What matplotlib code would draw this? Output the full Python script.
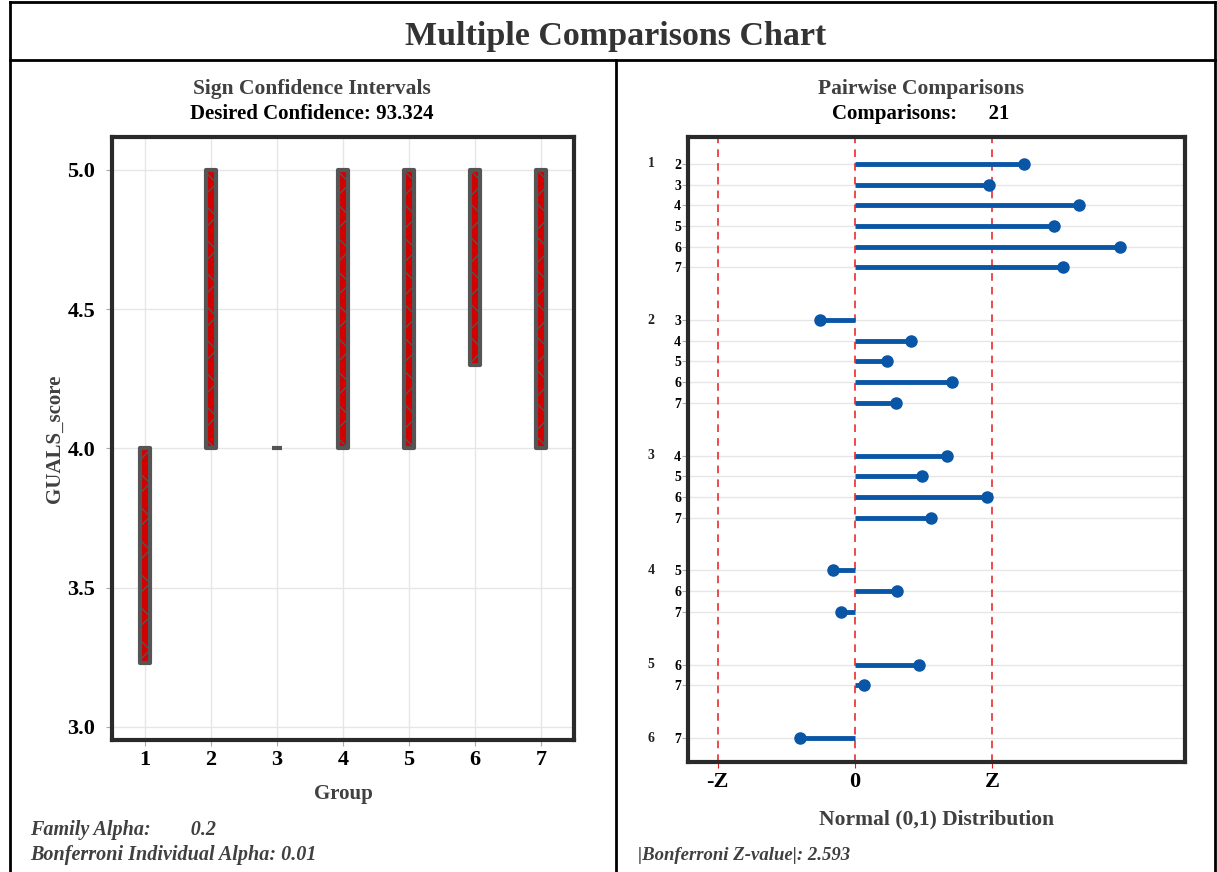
import matplotlib
matplotlib.use("Agg")
import matplotlib.pyplot as plt
from matplotlib.lines import Line2D

plt.rcParams['font.family'] = ['Liberation Serif', 'DejaVu Serif']
plt.rcParams['hatch.linewidth'] = 1.0

# sign confidence intervals per group
groups = [1, 2, 3, 4, 5, 6, 7]
ci_low = [3.23, 4.0, 4.0, 4.0, 4.0, 4.30, 4.0]
ci_high = [4.0, 5.0, 4.0, 5.0, 5.0, 5.0, 5.0]

# pairwise comparisons (z-values)
pair_first = [1, 1, 1, 1, 1, 1, 2, 2, 2, 2, 2, 3, 3, 3, 3, 4, 4, 4, 5, 5, 6]
pair_second = [2, 3, 4, 5, 6, 7, 3, 4, 5, 6, 7, 4, 5, 6, 7, 5, 6, 7, 6, 7, 7]
z_values = [3.20, 2.53, 4.23, 3.76, 5.00, 3.92,
            -0.65, 1.05, 0.61, 1.84, 0.78,
            1.73, 1.27, 2.49, 1.43,
            -0.42, 0.80, -0.27,
            1.21, 0.17,
            -1.04]
z_crit = 2.593

W, H = 1217, 872
fig = plt.figure(figsize=(W / 100, H / 100), dpi=100)
GRAY = '#404040'


def px_axes(x0, y0, x1, y1):
    return fig.add_axes([x0 / W, 1 - y1 / H, (x1 - x0) / W, (y1 - y0) / H])


def fig_line(x0, y0, x1, y1, lw=2):
    fig.add_artist(Line2D([x0 / W, x1 / W], [1 - y0 / H, 1 - y1 / H],
                          transform=fig.transFigure, color='black', lw=lw))


# frame lines
fig_line(10, 2, W, 2)
fig_line(10, 2, 10, H)
fig_line(10, 60, W, 60)
fig_line(616, 60, 616, H)
fig_line(W - 2, 2, W - 2, H)

fig.text(616 / W, 1 - 37 / H, 'Multiple Comparisons Chart', ha='center', va='center',
         fontsize=24.5, fontweight='bold', color='#333333')

# ---------- left panel ----------
fig.text(312 / W, 1 - 89 / H, 'Sign Confidence Intervals', ha='center', va='center',
         fontsize=15.5, fontweight='bold', color=GRAY)
fig.text(312 / W, 1 - 114 / H, 'Desired Confidence: 93.324', ha='center', va='center',
         fontsize=15, fontweight='bold', color='black')

ax1 = px_axes(112, 137, 574, 740)
heights = [h - l for l, h in zip(ci_low, ci_high)]
bars = ax1.bar(groups, heights, bottom=ci_low, width=0.16, color='#d40000',
               edgecolor='#555555', linewidth=3.0, hatch='x', zorder=3)
for b in bars:
    b.set_joinstyle('round')
ax1.set_xlim(0.5, 7.5)
ax1.set_ylim(2.953, 5.118)
ax1.set_xticks(groups)
ax1.set_yticks([3.0, 3.5, 4.0, 4.5, 5.0])
ax1.set_yticklabels(['3.0', '3.5', '4.0', '4.5', '5.0'])
ax1.grid(True, color='#e6e6e6', lw=1)
ax1.set_axisbelow(True)
ax1.tick_params(axis='y', labelsize=16, length=4, color='#aaaaaa', pad=8)
ax1.tick_params(axis='x', labelsize=16, length=4, color='#aaaaaa', pad=3)
for lab in ax1.get_xticklabels() + ax1.get_yticklabels():
    lab.set_fontweight('bold')
ax1.set_xlabel('Group', fontsize=15, fontweight='bold', color=GRAY, labelpad=10)
ax1.set_ylabel('GUALS_score', fontsize=15, fontweight='bold', color=GRAY, labelpad=2)
for s in ax1.spines.values():
    s.set_linewidth(3)
    s.set_color('#2a2a2a')

fig.text(30 / W, 1 - 830 / H, 'Family Alpha:        0.2', ha='left', va='center',
         fontsize=14.5, fontweight='bold', style='italic', color=GRAY)
fig.text(30 / W, 1 - 855 / H, 'Bonferroni Individual Alpha: 0.01', ha='left', va='center',
         fontsize=14.5, fontweight='bold', style='italic', color=GRAY)

# ---------- right panel ----------
fig.text(921 / W, 1 - 89 / H, 'Pairwise Comparisons', ha='center', va='center',
         fontsize=15.5, fontweight='bold', color=GRAY)
fig.text(921 / W, 1 - 114 / H, 'Comparisons:      21', ha='center', va='center',
         fontsize=15, fontweight='bold', color='black')

ax2 = px_axes(688, 137, 1185, 762)
rows = []
pos = 0.0
for i, g in enumerate(pair_first):
    if i > 0:
        pos += 1.0 if g == pair_first[i - 1] else 2.55
    rows.append(pos)

ax2.set_yticks(rows)
ax2.set_yticklabels([str(s) for s in pair_second])
ax2.grid(True, axis='y', color='#e6e6e6', lw=1)
ax2.set_axisbelow(True)
for zx in (-z_crit, 0, z_crit):
    ax2.axvline(zx, color='#e8191c', lw=1.1, ls=(0, (5, 4)), zorder=2)
ax2.hlines(rows, 0, z_values, color='#0a56a6', lw=3.5, zorder=3)
ax2.plot(z_values, rows, 'o', color='#0a56a6', ms=8, zorder=4)
for i, g in enumerate(pair_first):
    if i == 0 or g != pair_first[i - 1]:
        ax2.text(-0.074, rows[i], str(g), transform=ax2.get_yaxis_transform(),
                 ha='center', va='center', fontsize=10, fontweight='bold', color='#222222')
ax2.set_ylim(rows[-1] + 1.16, rows[0] - 1.3)
ax2.set_xlim(-3.15, 6.23)
ax2.set_xticks([-z_crit, 0, z_crit])
ax2.set_xticklabels(['-Z', '0', 'Z'])
ax2.tick_params(axis='x', labelsize=16, length=4, color='#e8191c', pad=3)
ax2.tick_params(axis='y', labelsize=10, length=4, color='#aaaaaa', pad=1)
for lab in ax2.get_xticklabels() + ax2.get_yticklabels():
    lab.set_fontweight('bold')
ax2.set_xlabel('Normal (0,1) Distribution', fontsize=15.5, fontweight='bold', color=GRAY,
               labelpad=13)
for s in ax2.spines.values():
    s.set_linewidth(3)
    s.set_color('#2a2a2a')

fig.text(638 / W, 1 - 855 / H, '|Bonferroni Z-value|: 2.593', ha='left', va='center',
         fontsize=13.5, fontweight='bold', style='italic', color=GRAY)

fig.savefig('out.png', dpi=100)
